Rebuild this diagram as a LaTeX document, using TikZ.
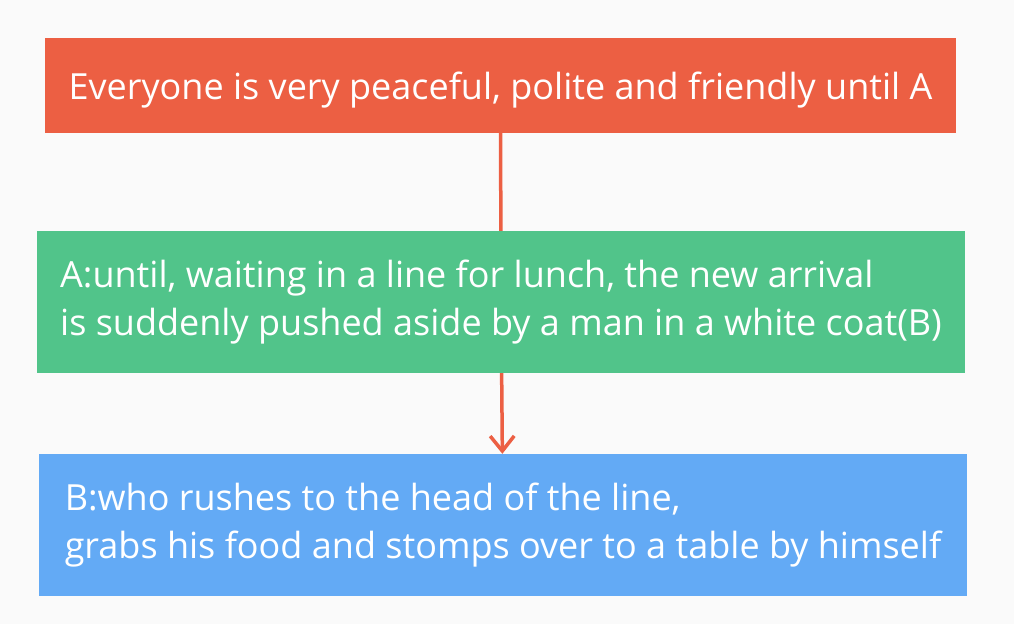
\documentclass[tikz,border=0pt]{standalone}
\usepackage{fontspec}
\setmainfont{Open Sans}
\usetikzlibrary{arrows.meta}
\definecolor{bg}{RGB}{250,250,250}
\definecolor{lred}{RGB}{236,95,67}
\definecolor{lgr}{RGB}{81,196,138}
\definecolor{lblue}{RGB}{99,170,245}
\pgfdeclarelayer{edgelayer}
\pgfdeclarelayer{nodelayer}
\pgfsetlayers{edgelayer,nodelayer,main}
\tikzstyle{box}=[rectangle,text=white,inner xsep=23pt,inner ysep=0pt,font=\fontsize{36}{48}\selectfont,execute at begin node={\rule{0pt}{36pt}}]
\tikzstyle{link}=[draw=lred,line width=3.5pt]

\begin{document}
\begin{tikzpicture}[x=1pt,y=-1pt]
        \begin{pgfonlayer}{nodelayer}
            \node [style = box, fill=lred, minimum width=911pt, minimum height=95pt, align=center] (peace) at (500.5, 85.5) {Everyone is very peaceful, polite and friendly until A};
            \node [style = box, fill=lgr, minimum width=928pt, minimum height=142pt, align=left] (until) at (501, 302) {A:until, waiting in a line for lunch, the new arrival\\is suddenly pushed aside by a man in a white coat(B)};
            \node [style = box, fill=lblue, minimum width=928pt, minimum height=142pt, align=left] (rush) at (503, 525) {B:who rushes to the head of the line,\\grabs his food and stomps over to a table by himself};
        \end{pgfonlayer}

        \begin{pgfonlayer}{edgelayer}
            \fill [bg] (0, 0) rectangle (1014, 624);
            \draw [style = link] (peace) to (until);
            \draw [style = link, -{Straight Barb[length=15pt, width=24pt]}] (until) to (rush);
        \end{pgfonlayer}
    \end{tikzpicture}
\end{document}
